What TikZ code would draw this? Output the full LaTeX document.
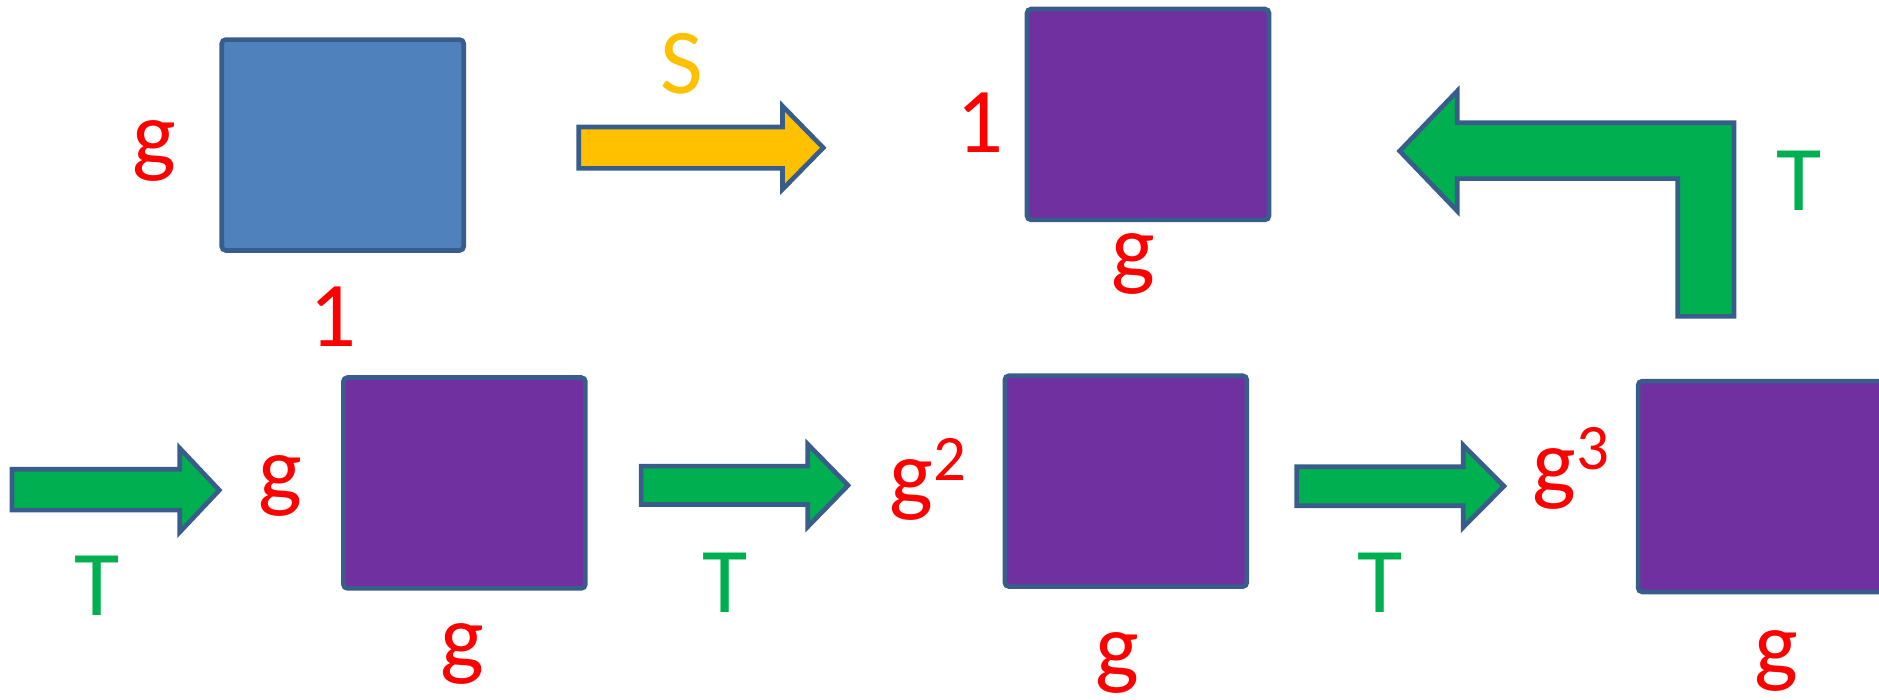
\documentclass[tikz,border=0pt]{standalone}
\usepackage{fontspec}
\setmainfont{Carlito}
\definecolor{boxblue}{HTML}{4F81BD}
\definecolor{edgeblue}{HTML}{385D8A}
\definecolor{boxpurple}{HTML}{7030A0}
\definecolor{arrowgreen}{HTML}{00B050}
\definecolor{arrowgold}{HTML}{FFC000}
\definecolor{labelred}{HTML}{FF0000}
\newcommand{\supsc}[1]{\raisebox{0.26em}{\fontsize{15.4}{18}\selectfont #1}}
\begin{document}
\begin{tikzpicture}[x=0.1mm,y=-0.1mm,
  box/.style={draw=edgeblue,line width=1.1pt,rounded corners=1pt,inner sep=0pt,
    minimum width=20.2mm,minimum height=17.6mm},
  blockarrow/.style={draw=edgeblue,line width=1.1pt,fill=arrowgreen},
  redlabel/.style={text=labelred,font=\fontsize{22}{26}\selectfont,inner sep=0pt,anchor=base},
  greenlabel/.style={text=arrowgreen,font=\fontsize{22}{26}\selectfont,inner sep=0pt,anchor=base}]
  \useasboundingbox (0,0) rectangle (1568,584);
  % blue square, top left
  \node[box,fill=boxblue] (blue) at (286,121) {};
  \node[redlabel] (gleft) at (129,138) {g};
  \node[redlabel] (oneblue) at (278,289) {1};
  % S arrow
  \draw[blockarrow,fill=arrowgold] (483,106) -- (653,106) -- (653,88.5) -- (687,123.3)
    -- (653,158) -- (653,140.5) -- (483,140.5) -- cycle;
  \node[redlabel,text=arrowgold] (S) at (569,78) {S};
  % purple square, top right
  \node[box,fill=boxpurple] (ptop) at (958,95.5) {};
  \node[redlabel] (onetop) at (818,127) {1};
  \node[redlabel] (gtop) at (946,232) {g};
  % bent T arrow
  \draw[blockarrow] (1168,126) -- (1216,76) -- (1216,102.4) -- (1447,102.4) -- (1447,264)
    -- (1400,264) -- (1400,149) -- (1216,149) -- (1216,176) -- cycle;
  \node[greenlabel] (Tbent) at (1501,176) {T};
  % bottom row: T arrows
  \draw[blockarrow] (10,391.6) -- (150,391.6) -- (150,374) -- (183,409) -- (150,444)
    -- (150,425.7) -- (10,425.7) -- cycle;
  \node[greenlabel] (Tone) at (81,514) {T};
  \draw[blockarrow] (535,389) -- (674,389) -- (674,370.6) -- (707.7,405) -- (674,439.6)
    -- (674,421) -- (535,421) -- cycle;
  \node[greenlabel] (Ttwo) at (605,511) {T};
  \draw[blockarrow] (1082,389.5) -- (1221,389.5) -- (1221,371.5) -- (1255,405.7) -- (1221,440)
    -- (1221,422) -- (1082,422) -- cycle;
  \node[greenlabel] (Tthree) at (1152,511) {T};
  % bottom row: purple squares and labels
  \node[redlabel] (gone) at (234,418) {g};
  \node[box,fill=boxpurple] (pone) at (387.5,403) {};
  \node[redlabel] (gbone) at (386,558) {g};
  \node[redlabel] (gtwo) at (774.5,421) {g\supsc{2}};
  \node[box,fill=boxpurple] (ptwo) at (939.5,401.5) {};
  \node[redlabel] (gbtwo) at (932.5,565) {g};
  \node[redlabel] (gthree) at (1311,412) {g\supsc{3}};
  % last square runs off the right edge
  \begin{scope}
    \clip (0,0) rectangle (1568,584);
    \node[box,fill=boxpurple,minimum width=24mm] (pthree) at (1487,406) {};
  \end{scope}
  \node[redlabel] (gbthree) at (1482,564) {g};
\end{tikzpicture}
\end{document}
